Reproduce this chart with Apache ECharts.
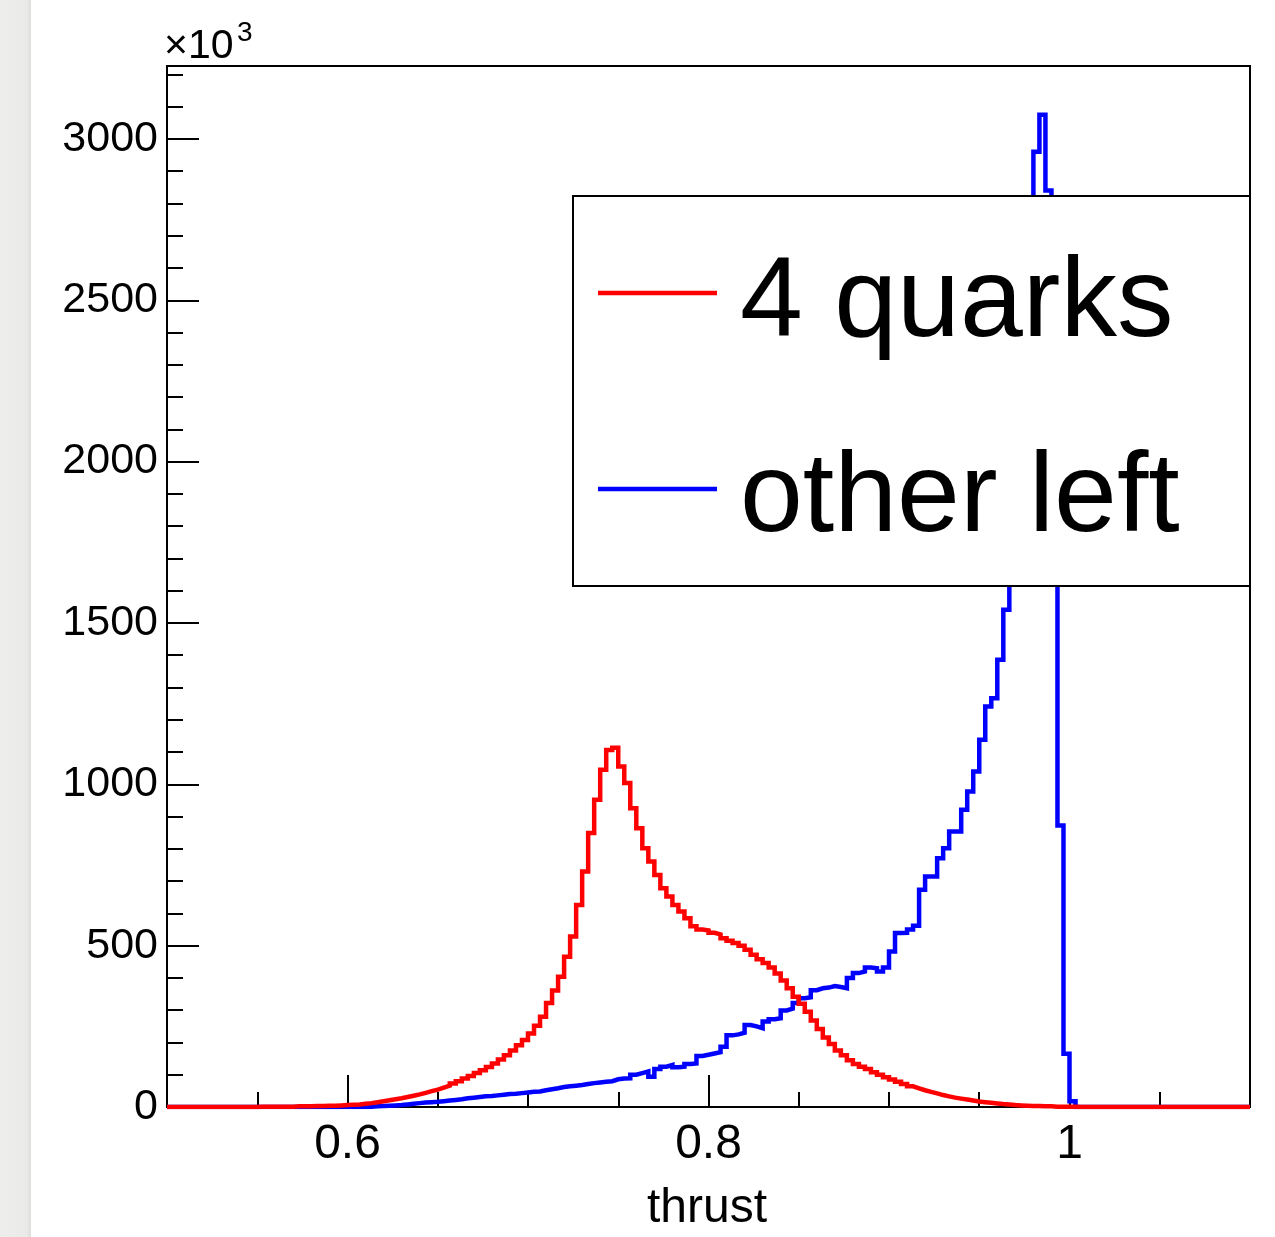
<!DOCTYPE html>
<html>
<head>
<meta charset="utf-8">
<script src="https://cdn.jsdelivr.net/npm/echarts@6/dist/echarts.min.js"></script>
<style>
html,body{margin:0;padding:0;background:#fff;}
#chart{width:1275px;height:1237px;}
</style>
</head>
<body>
<div id="chart"></div>
<script>
// Histogram: 180 bins from 0.5 to 1.1 (bin width 1/300), values in units of 10^3
const binLow = 0.5;
const binHigh = 1.1;
const nBins = 180;

const quarks4 = [
  0,0,0,0,0,0,0,0,0,0,
  0,0,0,0,0,1,1,1,1,1,
  1,2,2,2,3,3,4,4,5,6,
  7,8,10,12,15,18,21,24,27,31,
  35,39,44,49,54,60,66,73,80,88,
  96,105,114,124,135,147,160,175,191,208,
  228,252,280,322,361,404,466,528,626,730,
  849,952,1045,1106,1113,1055,1004,926,864,802,
  761,719,678,652,626,606,585,560,550,547,
  540,535,523,515,508,500,487,472,458,446,
  432,414,392,368,342,320,295,268,242,215,
  195,175,160,145,133,125,118,108,100,92,
  85,78,71,64,58,52,47,42,37,33,
  29,26,23,20,17,15,13,11,9,8,
  6,5,4,3,3,2,2,1,1,1,
  1,0,0,0,0,0,0,0,0,0,
  0,0,0,0,0,0,0,0,0,0,
  0,0,0,0,0,0,0,0,0,0
];

const otherLeft = [
  0,0,0,0,0,0,0,0,0,0,
  0,0,0,0,0,0,0,0,0,0,
  0,0,0,0,0,0,0,0,0,0,
  0,0,0,1,2,3,4,5,6,8,
  10,12,14,15,16,18,20,22,24,27,
  29,31,33,34,36,38,40,41,43,45,
  47,48,52,55,58,62,64,66,68,71,
  74,76,78,80,86,88,89,100,105,110,
  94,118,125,130,123,125,133,135,158,162,
  166,170,187,222,225,230,254,250,244,265,
  272,275,299,305,322,337,340,362,368,370,
  375,372,368,400,415,420,432,430,420,432,
  482,539,540,550,562,673,714,714,771,802,
  854,854,921,978,1040,1138,1241,1267,1386,1541,
  1750,1980,2280,2650,2960,3075,2840,2100,872,165,
  18,0,0,0,0,0,0,0,0,0,
  0,0,0,0,0,0,0,0,0,0,
  0,0,0,0,0,0,0,0,0,0
];

const xMajorTicks = [0.6, 0.8, 1.0];
const yMajorInterval = 500;
const yMinorInterval = 100;
const xMinorInterval = 0.05;
const yMax = 3226;

function histData(vals) {
  const w = (binHigh - binLow) / nBins;
  const out = [];
  for (let k = 0; k < vals.length; k++) out.push([binLow + k * w, vals[k]]);
  out.push([binHigh, vals[vals.length - 1]]);
  return out;
}

const FONT = '"Liberation Sans", Arial, Helvetica, sans-serif';
const chart = echarts.init(document.getElementById('chart'), null, {renderer: 'canvas'});

chart.setOption({
  animation: false,
  backgroundColor: '#ffffff',
  grid: {
    left: 167, top: 66, right: 25, bottom: 130,
    show: true, borderColor: '#000', borderWidth: 2, backgroundColor: 'transparent'
  },
  xAxis: [
    {
      type: 'value', min: binLow, max: binHigh, position: 'bottom',
      axisLine: {show: true, lineStyle: {color: '#000', width: 2}},
      axisTick: {show: true, inside: true, length: 32, customValues: xMajorTicks, lineStyle: {color: '#000', width: 2}},
      axisLabel: {
        show: true, customValues: xMajorTicks, margin: 14, fontSize: 48, color: '#000', fontFamily: FONT,
        formatter: v => (Math.abs(v - 1) < 1e-9 ? '1' : v.toFixed(1))
      },
      splitLine: {show: false}
    },
    {
      type: 'value', min: binLow, max: binHigh, interval: xMinorInterval, position: 'bottom',
      axisLine: {show: false},
      axisTick: {show: true, inside: true, length: 15, lineStyle: {color: '#000', width: 2}},
      axisLabel: {show: false},
      splitLine: {show: false}
    }
  ],
  yAxis: [
    {
      type: 'value', min: 0, max: yMax, interval: yMajorInterval, position: 'left',
      axisLine: {show: true, lineStyle: {color: '#000', width: 2}},
      axisTick: {show: true, inside: true, length: 32, lineStyle: {color: '#000', width: 2}},
      axisLabel: {
        show: true, margin: 9, fontSize: 43, color: '#000', fontFamily: FONT,
        formatter: v => (Math.round(v) % yMajorInterval === 0 ? String(Math.round(v)) : '')
      },
      splitLine: {show: false}
    },
    {
      type: 'value', min: 0, max: yMax, interval: yMinorInterval, position: 'left',
      axisLine: {show: false},
      axisTick: {show: true, inside: true, length: 16, lineStyle: {color: '#000', width: 2}},
      axisLabel: {show: false},
      splitLine: {show: false}
    }
  ],
  series: [
    {
      name: 'other left', type: 'line', step: 'end', xAxisIndex: 0, yAxisIndex: 0,
      data: histData(otherLeft), showSymbol: false, symbol: 'none', z: 3,
      lineStyle: {color: '#0000ff', width: 4.5, join: 'miter'}
    },
    {
      name: '4 quarks', type: 'line', step: 'end', xAxisIndex: 0, yAxisIndex: 0,
      data: histData(quarks4), showSymbol: false, symbol: 'none', z: 4,
      lineStyle: {color: '#ff0000', width: 4.5, join: 'miter'}
    }
  ],
  graphic: [
    {
      type: 'rect', left: 0, top: 0, z: 1, silent: true,
      shape: {x: 0, y: 0, width: 31, height: 1237},
      style: {fill: new echarts.graphic.LinearGradient(0, 0, 1, 0, [
        {offset: 0, color: '#ededeb'}, {offset: 0.85, color: '#eaeae8'}, {offset: 1, color: '#dededc'}
      ])}
    },
    {
      type: 'text', z: 20, silent: true,
      style: {x: 164, y: 47, text: '×10', fontSize: 41, fontFamily: FONT, fill: '#000', textAlign: 'left', textVerticalAlign: 'middle'}
    },
    {
      type: 'text', z: 20, silent: true,
      style: {x: 237, y: 33, text: '3', fontSize: 28, fontFamily: FONT, fill: '#000', textAlign: 'left', textVerticalAlign: 'middle'}
    },
    {
      type: 'text', z: 20, silent: true,
      style: {x: 707, y: 1209, text: 'thrust', fontSize: 48, fontFamily: FONT, fill: '#000', textAlign: 'center', textVerticalAlign: 'middle'}
    },
    {
      type: 'rect', z: 50, silent: true,
      shape: {x: 573, y: 196, width: 677, height: 390},
      style: {fill: '#ffffff', stroke: '#000', lineWidth: 2}
    },
    {
      type: 'line', z: 51, silent: true,
      shape: {x1: 598, y1: 293, x2: 717, y2: 293},
      style: {stroke: '#ff0000', lineWidth: 4.5}
    },
    {
      type: 'line', z: 51, silent: true,
      shape: {x1: 598, y1: 489, x2: 717, y2: 489},
      style: {stroke: '#0000ff', lineWidth: 4.5}
    },
    {
      type: 'text', z: 51, silent: true,
      style: {x: 740, y: 305, text: '4 quarks', fontSize: 113, fontFamily: FONT, fill: '#000', textAlign: 'left', textVerticalAlign: 'middle'}
    },
    {
      type: 'text', z: 51, silent: true,
      style: {x: 740, y: 500, text: 'other left', fontSize: 113, fontFamily: FONT, fill: '#000', textAlign: 'left', textVerticalAlign: 'middle'}
    }
  ]
});
</script>
</body>
</html>
